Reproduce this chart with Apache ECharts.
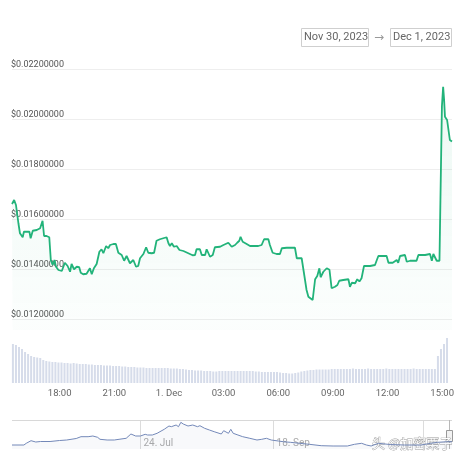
<!DOCTYPE html>
<html>
<head>
<meta charset="utf-8">
<script src="https://cdn.jsdelivr.net/npm/echarts@6/dist/echarts.min.js"></script>
<style>
  html, body { margin: 0; padding: 0; background: #fff; }
  #chart { width: 457px; height: 466px; }
</style>
</head>
<body>
<div id="chart"></div>
<script>
// price, minutes since window start (30 Nov 15:23)
const priceMinutes = [0, 2, 7, 13, 21, 26, 35, 39, 48, 57, 61, 68, 81, 92, 100, 105, 113, 122, 127, 133,
  139, 144, 152, 163, 173, 182, 190, 195, 203, 212, 220, 225, 233, 244, 250, 255, 261, 268, 277, 286,
  293, 299, 308, 315, 321, 332, 340, 348, 359, 367, 375, 386, 397, 406, 413, 419, 430, 439, 446, 457,
  465, 473, 484, 495, 506, 512, 517, 523, 530, 539, 548, 561, 577, 591, 599, 604, 615, 621, 632, 637,
  643, 648, 657, 664, 681, 692, 708, 713, 719, 730, 737, 744, 748, 755, 768, 779, 790, 806, 817, 825,
  839, 844, 853, 866, 877, 883, 899, 926, 932, 948, 954, 959, 964, 970, 975, 984, 992, 999, 1006, 1010,
  1019, 1030, 1039, 1046, 1057, 1065, 1071, 1084, 1101, 1106, 1112, 1123, 1130, 1137, 1144, 1152, 1172, 1188, 1194, 1199,
  1226, 1232, 1246, 1259, 1264, 1270, 1286, 1292, 1303, 1324, 1330, 1352, 1368, 1374, 1379, 1390, 1399, 1404, 1407, 1411,
  1414, 1417, 1424, 1433, 1440];
const priceValues = [0.01660, 0.01665, 0.01676, 0.01656, 0.01583, 0.01543, 0.01527, 0.01549, 0.01549, 0.01549, 0.01523, 0.01553, 0.01556, 0.01563, 0.01593, 0.01532, 0.01532, 0.01527, 0.01436, 0.01416,
  0.01436, 0.01409, 0.01396, 0.01392, 0.01425, 0.01412, 0.01389, 0.01420, 0.01399, 0.01409, 0.01407, 0.01385, 0.01379, 0.01381, 0.01376, 0.01403, 0.01379, 0.01403, 0.01420, 0.01469,
  0.01479, 0.01463, 0.01492, 0.01483, 0.01496, 0.01500, 0.01500, 0.01465, 0.01456, 0.01433, 0.01452, 0.01423, 0.01436, 0.01409, 0.01412, 0.01443, 0.01460, 0.01487, 0.01465, 0.01463,
  0.01465, 0.01513, 0.01519, 0.01523, 0.01527, 0.01503, 0.01492, 0.01503, 0.01489, 0.01492, 0.01476, 0.01472, 0.01463, 0.01455, 0.01456, 0.01479, 0.01479, 0.01456, 0.01456, 0.01479,
  0.01479, 0.01449, 0.01456, 0.01487, 0.01489, 0.01496, 0.01505, 0.01509, 0.01489, 0.01496, 0.01505, 0.01513, 0.01529, 0.01509, 0.01500, 0.01492, 0.01492, 0.01492, 0.01496, 0.01519,
  0.01519, 0.01496, 0.01465, 0.01460, 0.01460, 0.01483, 0.01485, 0.01485, 0.01443, 0.01443, 0.01440, 0.01356, 0.01316, 0.01289, 0.01283, 0.01276, 0.01359, 0.01372, 0.01403, 0.01367,
  0.01389, 0.01403, 0.01397, 0.01323, 0.01329, 0.01336, 0.01353, 0.01356, 0.01359, 0.01329, 0.01345, 0.01343, 0.01359, 0.01350, 0.01363, 0.01412, 0.01412, 0.01416, 0.01436, 0.01452,
  0.01452, 0.01425, 0.01425, 0.01436, 0.01425, 0.01452, 0.01456, 0.01429, 0.01433, 0.01433, 0.01456, 0.01456, 0.01460, 0.01433, 0.01460, 0.01433, 0.01433, 0.01430, 0.02050, 0.02129,
  0.02080, 0.02009, 0.01996, 0.01916, 0.01910];

// volume, one bar per 10 minutes
const volumeStep = 10;
const volumeValues = [39, 38, 36, 34, 31, 29, 27, 26, 25.5, 25,
  23, 22, 21.5, 21, 21, 20.5, 20.5, 20, 20, 19.5,
  20, 19.5, 19, 19, 19, 18.5, 18.5, 18, 18, 18,
  17.5, 17.5, 17.5, 17, 17, 17, 16.5, 16.5, 16, 16,
  16, 15.5, 15.5, 15.5, 15, 15, 15, 15, 15, 15,
  15, 15, 14.5, 14.5, 14.5, 14, 14, 13.5, 13, 13,
  12.5, 12.5, 12.5, 12, 12, 12, 11.5, 11.5, 12, 12,
  12, 12, 12, 12, 12, 12, 12, 12, 12, 12,
  11.5, 11.5, 11, 11, 11, 11, 11, 11, 10.5, 10,
  10, 9.5, 9.5, 10, 10.5, 11.5, 12, 12.5, 13, 13,
  13.5, 13.5, 13.5, 13.5, 13.5, 14, 14, 14, 14, 14,
  14, 14, 14.5, 14, 14, 14, 14, 14.5, 14, 14,
  14, 14, 14, 14.5, 14, 14, 14, 14, 14, 14,
  14, 14, 14.5, 14, 14, 14, 14, 14, 14, 14,
  27, 34, 39, 45];

const xTickMinutes = [157, 337, 517, 697, 877, 1057, 1237, 1417];
const xTickLabels = ['18:00', '21:00', '1. Dec', '03:00', '06:00', '09:00', '12:00', '15:00'];
const yTickValues = [0.012, 0.014, 0.016, 0.018, 0.020, 0.022];

// navigator, days since 31 May
const navDays = [0, 5, 6, 8, 10, 12, 16, 20, 23, 27, 29, 32, 34, 36, 37, 40, 43, 45, 48, 50,
  52, 54, 56, 57, 59, 61, 64, 66, 67, 69, 70, 71, 72, 74, 76, 78, 79, 81, 83, 85,
  88, 89, 91, 92, 93, 95, 97, 100, 103, 105, 107, 109, 112, 114, 117, 121, 125, 130, 135, 141,
  144, 147, 149, 151, 154, 159, 165, 172, 176, 179, 183, 185];
const navValues = [4, 4, 5.7, 8.3, 7, 7.5, 7.5, 8.5, 9, 10.5, 12.3, 12.3, 13, 11.7, 9.7, 9, 9, 9.7, 10.7, 15,
  13, 13, 14.7, 14, 14, 15.7, 19.7, 23, 22.3, 24, 22.3, 26.7, 25, 23, 24, 22.3, 23.3, 20.7, 19, 17.3,
  15, 18.3, 15.7, 19.7, 15.7, 14, 12.3, 10.7, 9, 9.7, 10.7, 9, 8, 7.3, 6.7, 5.7, 4.7, 3.3, 3, 3,
  4.7, 5.7, 4, 3, 5.7, 4.5, 4, 4, 5.7, 6.7, 7.3, 7.3];
const navGridDays = [54, 110, 173];
const navTickDays = [54, 110];
const navTickLabels = ['24. Jul', '18. Sep'];

const lineColor = '#22b37a';
const font = 'Roboto';

const priceData = priceMinutes.map((m, i) => [m, priceValues[i]]);
const volumeData = volumeValues.map((v, i) => [i * volumeStep + 3, v]);
const navData = navDays.map((d, i) => [d, navValues[i]]);

const chart = echarts.init(document.getElementById('chart'));
chart.setOption({
  animation: false,
  textStyle: { fontFamily: font },
  grid: [
    { left: 12, right: 5, top: 54, height: 276 },
    { left: 12, right: 5, top: 338, height: 45 },
    { left: 12, right: 5, top: 421, height: 28 }
  ],
  xAxis: [
    {
      type: 'value', gridIndex: 0, min: 0, max: 1440,
      axisLine: { show: false }, axisTick: { show: false },
      axisLabel: { show: false }, splitLine: { show: false }
    },
    {
      type: 'value', gridIndex: 1, min: 0, max: 1440,
      axisLine: { show: false },
      axisTick: { show: false, customValues: xTickMinutes },
      splitLine: { show: false },
      axisLabel: {
        customValues: xTickMinutes,
        margin: 6,
        fontSize: 9.5,
        color: '#666',
        formatter: v => xTickLabels[xTickMinutes.indexOf(v)]
      }
    },
    {
      type: 'value', gridIndex: 2, min: 0, max: 185,
      axisLine: { show: false },
      axisTick: { show: false, customValues: navGridDays },
      splitLine: { show: true, lineStyle: { color: '#dcdcdc', width: 1 } },
      axisLabel: {
        customValues: navTickDays,
        inside: true,
        align: 'left',
        verticalAlign: 'bottom',
        margin: 1,
        padding: [0, 0, 0, 3],
        fontSize: 10,
        color: '#aaa',
        formatter: v => navTickLabels[navTickDays.indexOf(v)]
      }
    }
  ],
  yAxis: [
    {
      type: 'value', gridIndex: 0, min: 0.01156, max: 0.0226,
      axisLine: { show: false },
      axisTick: { show: false, customValues: yTickValues },
      splitLine: { show: true, lineStyle: { color: '#eeeeee' } },
      axisLabel: {
        customValues: yTickValues,
        inside: true,
        margin: -1,
        align: 'left',
        verticalAlign: 'bottom',
        lineHeight: 9,
        fontSize: 9,
        color: '#555',
        formatter: v => '$' + v.toFixed(8)
      }
    },
    { type: 'value', gridIndex: 1, min: 0, max: 45, show: false },
    { type: 'value', gridIndex: 2, min: 0, max: 28, show: false }
  ],
  series: [
    {
      type: 'line', xAxisIndex: 0, yAxisIndex: 0,
      data: priceData,
      symbol: 'none',
      lineStyle: { color: lineColor, width: 1.8 },
      areaStyle: {
        origin: 'start',
        color: new echarts.graphic.LinearGradient(0, 0, 0, 1, [
          { offset: 0, color: 'rgba(34,179,122,0.12)' },
          { offset: 1, color: 'rgba(34,179,122,0.02)' }
        ])
      },
      z: 3
    },
    {
      type: 'bar', xAxisIndex: 1, yAxisIndex: 1,
      data: volumeData,
      barWidth: 2,
      itemStyle: { color: '#d6dcea' }
    },
    {
      type: 'line', xAxisIndex: 2, yAxisIndex: 2,
      data: navData,
      symbol: 'none',
      lineStyle: { color: '#7388b8', width: 1 },
      areaStyle: { origin: 'start', color: 'rgba(115,136,184,0.07)' }
    }
  ],
  graphic: [
    { type: 'rect', shape: { x: 301.5, y: 28.5, width: 67, height: 18 }, style: { fill: '#fff', stroke: '#cfcfcf', lineWidth: 1 } },
    { type: 'text', x: 304, y: 37.5, style: { text: 'Nov 30, 2023', font: '11px Roboto', fill: '#666', verticalAlign: 'middle' } },
    { type: 'text', x: 374, y: 38, style: { text: '→', font: '12px "DejaVu Sans"', fill: '#999', verticalAlign: 'middle' } },
    { type: 'rect', shape: { x: 390.5, y: 28.5, width: 61, height: 18 }, style: { fill: '#fff', stroke: '#cfcfcf', lineWidth: 1 } },
    { type: 'text', x: 393, y: 37.5, style: { text: 'Dec 1, 2023', font: '11px Roboto', fill: '#666', verticalAlign: 'middle' } },
    { type: 'line', shape: { x1: 12, y1: 420.5, x2: 452, y2: 420.5 }, style: { stroke: '#d8d8d8', lineWidth: 1 } },
    { type: 'line', shape: { x1: 449.5, y1: 420, x2: 449.5, y2: 449 }, style: { stroke: '#b8b8b8', lineWidth: 1 } },
    { type: 'rect', shape: { x: 446.5, y: 430.5, width: 6, height: 11 }, style: { fill: '#f2f2f2', stroke: '#999', lineWidth: 1 } },
    { type: 'text', x: 372, y: 443, style: { text: '头 @加密栗子', font: '13px "Noto Sans CJK SC"', fill: '#fff', stroke: '#999', lineWidth: 0.8, verticalAlign: 'middle' } }
  ]
});
</script>
</body>
</html>
